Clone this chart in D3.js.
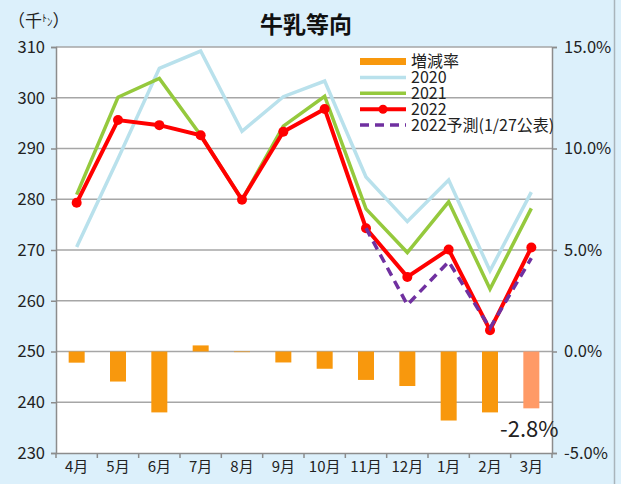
<!DOCTYPE html>
<html>
<head>
<meta charset="utf-8">
<script src="https://cdn.jsdelivr.net/npm/d3@7"></script>
<style>
  body { margin: 0; background: #dcf0fb; }
  svg { display: block; font-family: "Noto Sans CJK JP", "Noto Sans", sans-serif; }
</style>
</head>
<body>
<svg id="chart"></svg>
<script>
// ── data ─────────────────────────────────────────────────────────────
const months   = ["4月", "5月", "6月", "7月", "8月", "9月", "10月", "11月", "12月", "1月", "2月", "3月"];
const y2020    = [270.6, 288.0, 305.8, 309.2, 293.4, 300.2, 303.3, 284.4, 275.6, 283.8, 265.9, 281.4];
const y2021    = [280.9, 300.1, 303.8, 292.6, 279.9, 294.4, 300.3, 278.1, 269.5, 279.5, 262.3, 278.2];
const y2022    = [279.3, 295.6, 294.6, 292.6, 279.9, 293.3, 297.8, 274.3, 264.7, 270.1, 254.2, 270.5];
const forecast = [null, null, null, null, null, null, null, 274.3, 259.2, 267.7, 254.6, 268.4];
const change   = [-0.55, -1.48, -3.0, 0.3, -0.03, -0.54, -0.85, -1.4, -1.7, -3.4, -3.0, -2.8];
const leftTicks  = [230, 240, 250, 260, 270, 280, 290, 300, 310];
const rightTicks = [-5, 0, 5, 10, 15];

// ── geometry ─────────────────────────────────────────────────────────
const W = 621, H = 484;
const plot = { left: 56, right: 552, top: 47, bottom: 453 };

const svg = d3.select("#chart").attr("width", W).attr("height", H);

svg.append("rect").attr("width", W).attr("height", H).attr("fill", "#dcf0fb");
svg.append("line")
    .attr("x1", 614.5).attr("x2", 614.5).attr("y1", 0).attr("y2", H)
    .attr("stroke", "#a9b4bb").attr("stroke-width", 1.5);

const x = d3.scaleBand().domain(months).range([plot.left, plot.right]);
const y = d3.scaleLinear().domain([230, 310]).range([plot.bottom, plot.top]);
const y2 = d3.scaleLinear().domain([-5, 15]).range([plot.bottom, plot.top]);
const cx = m => x(m) + x.bandwidth() / 2;

// plot background
svg.append("rect")
    .attr("x", plot.left).attr("y", plot.top)
    .attr("width", plot.right - plot.left).attr("height", plot.bottom - plot.top)
    .attr("fill", "#fff");

// ── grid lines ──
svg.append("g").selectAll("line")
    .data(leftTicks.slice(1))
    .join("line")
    .attr("x1", plot.left).attr("x2", plot.right)
    .attr("y1", d => y(d)).attr("y2", d => y(d))
    .attr("stroke", "#a6a6a6").attr("stroke-width", 1.5);

// ── axes ──
const axisLeft = svg.append("g")
    .attr("transform", `translate(${plot.left},0)`)
    .call(d3.axisLeft(y).tickValues(leftTicks).tickSize(5).tickPadding(6));
const axisRight = svg.append("g")
    .attr("transform", `translate(${plot.right},0)`)
    .call(d3.axisRight(y2).tickValues(rightTicks).tickSize(5).tickPadding(7)
        .tickFormat(d => d.toFixed(1) + "%"));
const axisBottom = svg.append("g")
    .attr("transform", `translate(0,${plot.bottom})`)
    .call(d3.axisBottom(x).tickSize(0).tickPadding(8));

// category separators on the bottom axis
axisBottom.selectAll(".sep")
    .data(d3.range(months.length + 1))
    .join("line")
    .attr("class", "sep")
    .attr("x1", i => plot.left + i * x.step()).attr("x2", i => plot.left + i * x.step())
    .attr("y1", 0).attr("y2", 5)
    .attr("stroke", "#8c8c8c").attr("stroke-width", 1.5);

[axisLeft, axisRight, axisBottom].forEach(a => {
    a.selectAll("path, line").attr("stroke", "#8c8c8c").attr("stroke-width", 1.5);
    a.selectAll("text")
        .attr("fill", "#222")
        .style("font-size", "16.5px")
        .style("font-family", "'Noto Sans CJK JP', sans-serif");
});
axisBottom.selectAll("text").style("font-size", "15px");

// ── bars (change rate, right axis) ──
const barW = 16;
svg.append("g").selectAll("rect")
    .data(change)
    .join("rect")
    .attr("x", (d, i) => cx(months[i]) - barW / 2)
    .attr("y", d => y2(Math.max(0, d)))
    .attr("width", barW)
    .attr("height", d => Math.abs(y2(d) - y2(0)))
    .attr("fill", (d, i) => i === months.length - 1 ? "#ff9a66" : "#f8980d");

// ── lines ──
const line = d3.line()
    .defined(d => d.v != null)
    .x(d => cx(d.m))
    .y(d => y(d.v));
const toPts = arr => arr.map((v, i) => ({ m: months[i], v }));

svg.append("path").datum(toPts(y2020))
    .attr("d", line).attr("fill", "none")
    .attr("stroke", "#b9e1ec").attr("stroke-width", 3.5);
svg.append("path").datum(toPts(y2021))
    .attr("d", line).attr("fill", "none")
    .attr("stroke", "#95c93d").attr("stroke-width", 3.5);
svg.append("path").datum(toPts(y2022))
    .attr("d", line).attr("fill", "none")
    .attr("stroke", "#ff0000").attr("stroke-width", 4);
svg.append("g").selectAll("circle")
    .data(toPts(y2022))
    .join("circle")
    .attr("cx", d => cx(d.m)).attr("cy", d => y(d.v))
    .attr("r", 5).attr("fill", "#ff0000");
svg.append("path").datum(toPts(forecast))
    .attr("d", line).attr("fill", "none")
    .attr("stroke", "#7030a0").attr("stroke-width", 3.5)
    .attr("stroke-dasharray", "9,6");

// ── value label ──
svg.append("text")
    .attr("x", cx(months[11]) - 2).attr("y", y2(change[11]) + 29)
    .attr("text-anchor", "middle")
    .attr("fill", "#222")
    .style("font-size", "22px")
    .text("-2.8%");

// ── legend ──
const legend = [
    { name: "増減率", color: "#f8980d", w: 7 },
    { name: "2020", color: "#b9e1ec", w: 3.5 },
    { name: "2021", color: "#95c93d", w: 3.5 },
    { name: "2022", color: "#ff0000", w: 4, dot: true },
    { name: "2022予測(1/27公表)", color: "#7030a0", w: 3.5, dash: "9,6" },
];
const lg = svg.append("g").selectAll("g")
    .data(legend)
    .join("g")
    .attr("transform", (d, i) => `translate(360,${61.5 + i * 15.9})`);
lg.append("line")
    .attr("x1", 0).attr("x2", 46)
    .attr("stroke", d => d.color)
    .attr("stroke-width", d => d.w)
    .attr("stroke-dasharray", d => d.dash || null);
lg.filter(d => d.dot).append("circle")
    .attr("cx", 23).attr("r", 4.5).attr("fill", "#ff0000");
lg.append("text")
    .attr("x", 51).attr("y", 5.5)
    .attr("fill", "#222")
    .style("font-size", "16px")
    .text(d => d.name);

// ── titles ──
svg.append("text")
    .attr("x", 306).attr("y", 33)
    .attr("text-anchor", "middle")
    .attr("fill", "#111")
    .style("font-size", "23px")
    .style("font-weight", "bold")
    .text("牛乳等向");

const unit = svg.append("text")
    .attr("x", 8).attr("y", 27)
    .attr("fill", "#222")
    .style("font-size", "17px");
unit.append("tspan").text("（千");
unit.append("tspan").style("font-size", "10px").attr("dy", -5).text("ﾄ");
unit.append("tspan").style("font-size", "11px").attr("dy", 4).text("ﾝ");
unit.append("tspan").attr("dy", 1).text("）");
</script>
</body>
</html>
